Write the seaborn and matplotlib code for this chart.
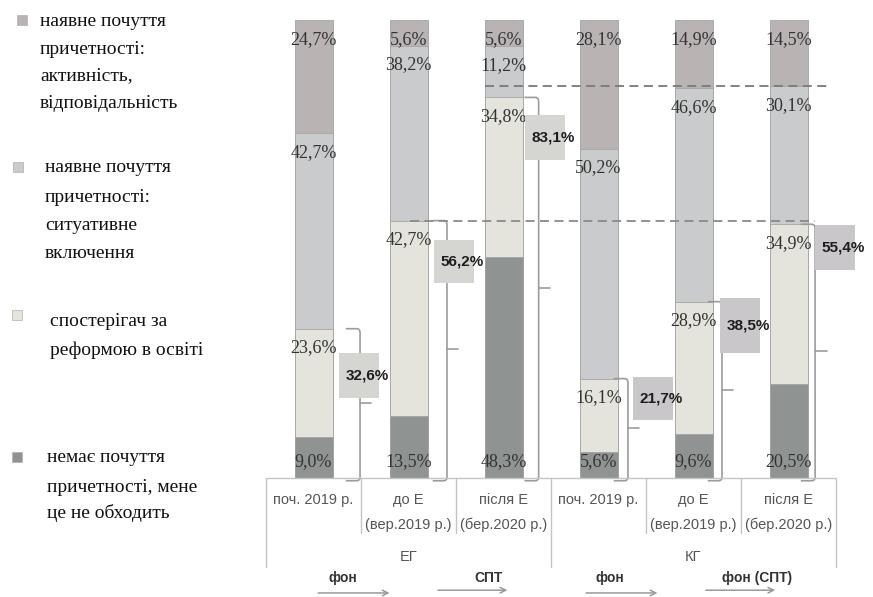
import numpy as np
import pandas as pd
import matplotlib.pyplot as plt
import seaborn as sns
from matplotlib.patches import Rectangle, PathPatch
from matplotlib.path import Path

# data: shares (%) per bar, bottom segment first
groups = ["ЕГ", "ЕГ", "ЕГ", "КГ", "КГ", "КГ"]
periods = ["поч. 2019 р.", "до Е\n(вер.2019 р.)", "після Е\n(бер.2020 р.)",
           "поч. 2019 р.", "до Е\n(вер.2019 р.)", "після Е\n(бер.2020 р.)"]
no_part = [9.0, 13.5, 48.3, 5.6, 9.6, 20.5]
observer = [23.6, 42.7, 34.8, 16.1, 28.9, 34.9]
situative = [42.7, 38.2, 11.2, 50.2, 46.6, 30.1]
active = [24.7, 5.6, 5.6, 28.1, 14.9, 14.5]

legend_labels = [
    ["наявне почуття", "причетності:", "активність,", "відповідальність"],
    ["наявне почуття", "причетності:", "ситуативне", "включення"],
    ["спостерігач за", "реформою в освіті"],
    ["немає почуття", "причетності, мене", "це не обходить"],
]
stages = [("фон", 0.02, 0.83), ("СПТ", 1.28, 2.07), ("фон", 2.84, 3.65), ("фон (СПТ)", 4.10, 4.89)]

c_active = "#b9b3b4"
c_sit = "#c9cbcc"
c_obs = "#e4e4dd"
c_no = "#8f9392"

df = pd.DataFrame({"bar": [f"{g}|{p}" for g, p in zip(groups, periods)],
                   "no": no_part, "obs": observer, "sit": situative, "act": active})
df["c1"] = df["no"]
df["c2"] = df["c1"] + df["obs"]
df["c3"] = df["c2"] + df["sit"]
df["c4"] = df["c3"] + df["act"]

sns.set_style("white")
W, H = 873, 597
fig = plt.figure(figsize=(W / 100, H / 100), dpi=100)
ax = fig.add_axes([266 / W, 1 - 478 / H, 570 / W, 458 / H])

for col, color in [("c4", c_active), ("c3", c_sit), ("c2", c_obs), ("c1", c_no)]:
    sns.barplot(data=df, x="bar", y=col, color=color, saturation=1, width=0.4,
                edgecolor="#a4a4a4", linewidth=0.6, errorbar=None, ax=ax)
ax.set_xlim(-0.5, 5.5)
ax.set_ylim(0, 100)
ax.set_axis_off()

serif = ["Liberation Serif", "DejaVu Serif"]
sans = ["Liberation Sans", "DejaVu Sans"]

# segment labels
for i in range(len(df)):
    r = df.iloc[i]
    ax.text(i, 3.5, f"{r['no']:.1f}%".replace(".", ","), ha="center", va="center",
            fontsize=13, family=serif, color="#333333")
    for val, top in [(r["obs"], r["c2"]), (r["sit"], r["c3"]), (r["act"], r["c4"])]:
        ax.text(i, top - 4.2, f"{val:.1f}%".replace(".", ","), ha="center", va="center",
                fontsize=13, family=serif, color="#333333")

# dashed reference lines
ax.plot([1.80, 5.42], [df["c3"].iloc[5]] * 2, ls=(0, (5, 3)), color="#7a7a7a", lw=1.3, clip_on=False)
ax.plot([1.02, 5.28], [df["c2"].iloc[1]] * 2, ls=(0, (5, 3)), color="#8a8a8a", lw=1.3, clip_on=False)

# braces with summary boxes
brace_dx = [0.49, 0.405, 0.37, 0.31, 0.30, 0.28]
box_left = [0.27, 1.27, 2.23, 3.36, 4.28, 5.28]
box_drop = [10.2, 8.9, 8.8, 4.3, 5.2, 5.1]
box_h = [9.8, 9.4, 9.8, 9.4, 12.0, 9.8]
box_col = ["#d5d5d1", "#d5d5d1", "#d5d5d1", "#c9c7c9", "#c9c7c9", "#c9c7c9"]


def brace(x, top, bottom=-0.6, hook=0.15, rx=0.035, ry=0.9):
    verts = [(x - hook, top), (x - rx, top), (x, top), (x, top - ry),
             (x, bottom + ry), (x, bottom), (x - rx, bottom), (x - hook, bottom)]
    codes = [Path.MOVETO, Path.LINETO, Path.CURVE3, Path.CURVE3,
             Path.LINETO, Path.CURVE3, Path.CURVE3, Path.LINETO]
    ax.add_patch(PathPatch(Path(verts, codes), fill=False, ec="#9c9c9c", lw=1.2, clip_on=False))
    ax.plot([x, x + 0.12], [top / 2, top / 2], color="#9c9c9c", lw=1.2, clip_on=False)


for i in range(len(df)):
    total = df["c2"].iloc[i]
    brace(i + brace_dx[i], total)
    yc = total - box_drop[i]
    ax.add_patch(Rectangle((box_left[i], yc - box_h[i] / 2), 0.42, box_h[i],
                           fc=box_col[i], ec="none", clip_on=False, zorder=3))
    ax.text(box_left[i] + 0.07, yc, f"{total:.1f}%".replace(".", ","), ha="left", va="center",
            fontsize=11, fontweight="bold", family=sans, color="#1e1e1e", zorder=4)

# category table under the bars
lc = "#c4c4c4"
ax.plot([-0.5, 5.5], [0, 0], color=lc, lw=1, clip_on=False)
for x in [0.5, 1.5, 3.5, 4.5]:
    ax.plot([x, x], [0, -12], color=lc, lw=1, clip_on=False)
for x in [-0.5, 2.5, 5.5]:
    ax.plot([x, x], [0, -19.4], color=lc, lw=1, clip_on=False)
for i, p in enumerate(periods):
    for k, line in enumerate(p.split("\n")):
        ax.text(i, -4.9 - 5.4 * k, line, ha="center", va="center", fontsize=10.5,
                family=sans, color="#555555", clip_on=False)
for g in ["ЕГ", "КГ"]:
    xs = [i for i, gg in enumerate(groups) if gg == g]
    ax.text(np.mean(xs), -17.2, g, ha="center", va="center", fontsize=10.5,
            family=sans, color="#555555")

# stage arrows
for k, (lab, x0, x1) in enumerate(stages):
    y = -25.1 if k % 2 == 0 else -24.5
    ax.annotate("", xy=(x1, y), xytext=(x0, y), annotation_clip=False,
                arrowprops=dict(arrowstyle="->", color="#9a9a9a", lw=1.1))
    ax.text((x0 + x1) / 2 - 0.12 if k % 2 == 0 else (x0 + x1) / 2 + 0.17, -21.8, lab,
            ha="center", va="center", fontsize=10, fontweight="bold", family=sans, color="#333333")

# legend drawn by hand
leg_sq = [(22, 20), (18, 167), (17, 315), (17, 457)]
leg_x = [40, 45, 50, 47]
leg_lines_y = [[22, 49, 76, 103], [168, 197, 225, 253], [322, 350], [457, 488, 513]]
for (sx, sy), tx, ys, labs, col in zip(leg_sq, leg_x, leg_lines_y, legend_labels,
                                      [c_active, c_sit, c_obs, c_no]):
    fig.add_artist(Rectangle(((sx - 5) / W, 1 - (sy + 5) / H), 10 / W, 10 / H,
                             transform=fig.transFigure, fc=col, ec="#b0b0b0", lw=0.5))
    for yy, t in zip(ys, labs):
        fig.text(tx / W, 1 - yy / H, t, ha="left", va="center", fontsize=14,
                 family=serif, color="#111111")

fig.savefig("out.png", dpi=100)
